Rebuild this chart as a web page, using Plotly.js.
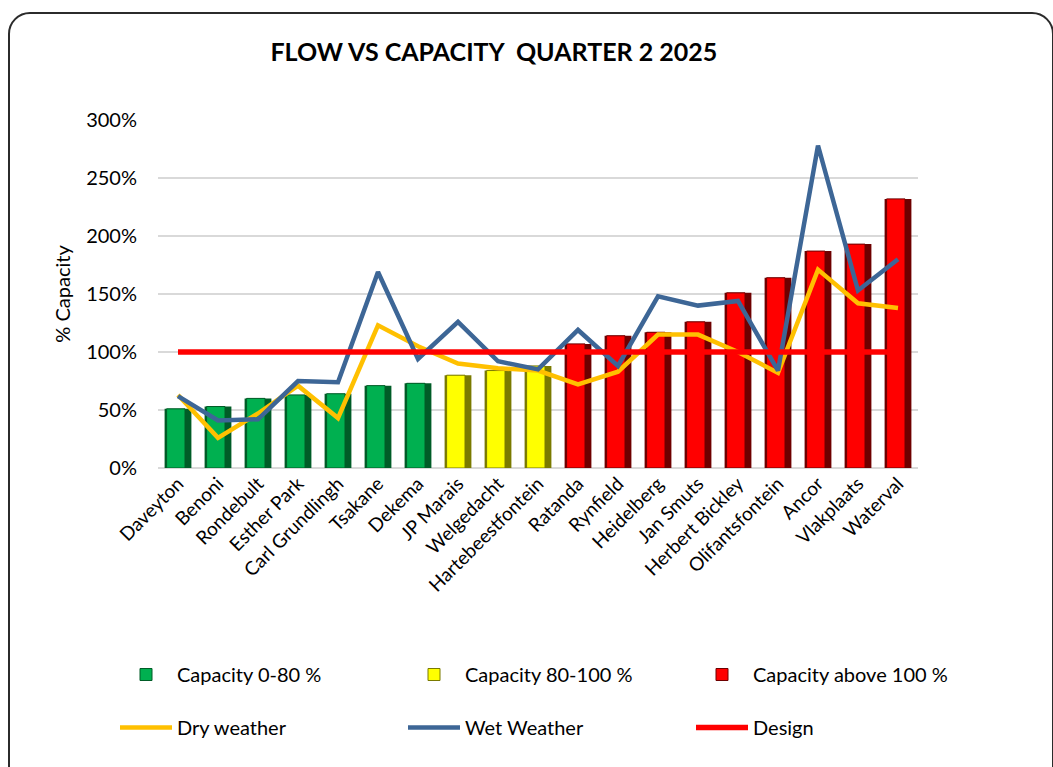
<!DOCTYPE html>
<html>
<head>
<meta charset="utf-8">
<script src="https://cdn.plot.ly/plotly-3.0.1.min.js"></script>
<style>
  html, body { margin: 0; padding: 0; background: #ffffff; overflow: hidden; }
  #frame {
    position: absolute; left: 8px; top: 12px;
    width: 1042px; height: 800px;
    border: 2px solid #2b2b2b; border-radius: 22px;
    pointer-events: none; z-index: 2;
  }
  #chart { position: absolute; left: 0; top: 0; width: 1053px; height: 767px; }
</style>
</head>
<body>
<div id="frame"></div>
<div id="chart"></div>
<script>
// Treatment works, ordered by capacity use
const categories = [
  'Daveyton', 'Benoni', 'Rondebult', 'Esther Park', 'Carl Grundlingh', 'Tsakane',
  'Dekema', 'JP Marais', 'Welgedacht', 'Hartebeestfontein', 'Ratanda', 'Rynfield',
  'Heidelberg', 'Jan Smuts', 'Herbert Bickley', 'Olifantsfontein', 'Ancor',
  'Vlakplaats', 'Waterval'
];

// Flow as % of design capacity
const capacity   = [51, 53, 60, 63, 64, 71, 73, 80, 84, 88, 107, 114, 117, 126, 151, 164, 187, 193, 232];
const dryWeather = [63, 26, 47, 71, 43, 123, 105, 90, 86, 84, 72, 83, 115, 115, 100, 82, 171, 142, 138];
const wetWeather = [62, 41, 42, 75, 74, 169, 94, 126, 92, 85, 119, 88, 148, 140, 144, 84, 278, 153, 180];
const design     = [100, 100, 100, 100, 100, 100, 100, 100, 100, 100, 100, 100, 100, 100, 100, 100, 100, 100, 100];

// Capacity bands used to colour the bars
const bandNames = ['Capacity 0-80 %', 'Capacity 80-100 %', 'Capacity above 100 %'];
const bandFace  = ['#00b050', '#ffff00', '#ff0000'];
const bandEdge  = ['#005c27', '#7a7a00', '#6e0000'];

function bandOf(v) { return v < 80 ? 0 : (v <= 100 ? 1 : 2); }

const FONT = 'Lato, "Open Sans", sans-serif';
const traces = [];

// legend ids laid out as a 3 x 2 grid: bars on the top row, lines below
const legendIds = ['legend', 'legend2', 'legend3', 'legend4', 'legend5', 'legend6'];

bandNames.forEach(function (name, b) {
  const xs = [], ys = [];
  capacity.forEach(function (v, i) {
    if (bandOf(v) === b) { xs.push(categories[i]); ys.push(v); }
  });
  // dark body of the bar (gives the shaded right-hand edge)
  traces.push({
    type: 'bar', x: xs, y: ys, width: 0.67, offset: -0.335,
    marker: { color: bandEdge[b], line: { width: 0 } },
    showlegend: false, hoverinfo: 'skip'
  });
  // bright face of the bar
  traces.push({
    type: 'bar', x: xs, y: ys, width: 0.46, offset: -0.285, name: name,
    marker: { color: bandFace[b], line: { color: bandEdge[b], width: 1 } },
    legend: legendIds[b]
  });
});

traces.push({
  type: 'scatter', mode: 'lines', x: categories, y: dryWeather, name: 'Dry weather',
  line: { color: '#ffc000', width: 4.5 }, legend: legendIds[3]
});
traces.push({
  type: 'scatter', mode: 'lines', x: categories, y: wetWeather, name: 'Wet Weather',
  line: { color: '#3d6696', width: 4.5 }, legend: legendIds[4]
});
traces.push({
  type: 'scatter', mode: 'lines', x: categories, y: design, name: 'Design',
  line: { color: '#ff0000', width: 5.5 }, legend: legendIds[5]
});

function legendAt(xPx, yPx) {
  return {
    orientation: 'h', xref: 'container', yref: 'container',
    x: xPx / 1053, xanchor: 'left', y: 1 - yPx / 767, yanchor: 'top',
    itemwidth: 52,
    font: { family: FONT, size: 20, color: '#000' },
    bgcolor: 'rgba(0,0,0,0)'
  };
}

const colX = [115, 403, 691];
const rowY = [655, 708];

const layout = {
  width: 1053, height: 767,
  margin: { l: 158, r: 135, t: 120, b: 299 },
  paper_bgcolor: 'rgba(0,0,0,0)', plot_bgcolor: 'rgba(0,0,0,0)',
  barmode: 'overlay',
  font: { family: FONT, color: '#000' },
  title: {
    text: 'FLOW VS CAPACITY  QUARTER 2 2025',
    font: { family: FONT, size: 25, weight: 'bold', color: '#000' },
    xref: 'container', yref: 'container', x: 0.469, xanchor: 'center', y: 0.932, yanchor: 'middle'
  },
  xaxis: {
    type: 'category', categoryorder: 'array', categoryarray: categories,
    range: [-0.5, 18.5], tickangle: -45, showgrid: false, showline: false, ticks: '',
    tickfont: { family: FONT, size: 19, color: '#000' }
  },
  yaxis: {
    range: [0, 300], dtick: 50, ticksuffix: '%',
    gridcolor: '#d9d9d9', gridwidth: 2,
    zeroline: true, zerolinecolor: '#d9d9d9', zerolinewidth: 2,
    showline: false, ticks: '', ticklabelstandoff: 20,
    tickfont: { family: FONT, size: 20, color: '#000' },
    title: { text: '% Capacity', font: { family: FONT, size: 20, color: '#000' }, standoff: 10 }
  },
  showlegend: true
};

legendIds.forEach(function (id, k) {
  layout[id] = legendAt(colX[k % 3], rowY[Math.floor(k / 3)]);
});

Plotly.newPlot('chart', traces, layout, { displayModeBar: false, staticPlot: true });
</script>
</body>
</html>
